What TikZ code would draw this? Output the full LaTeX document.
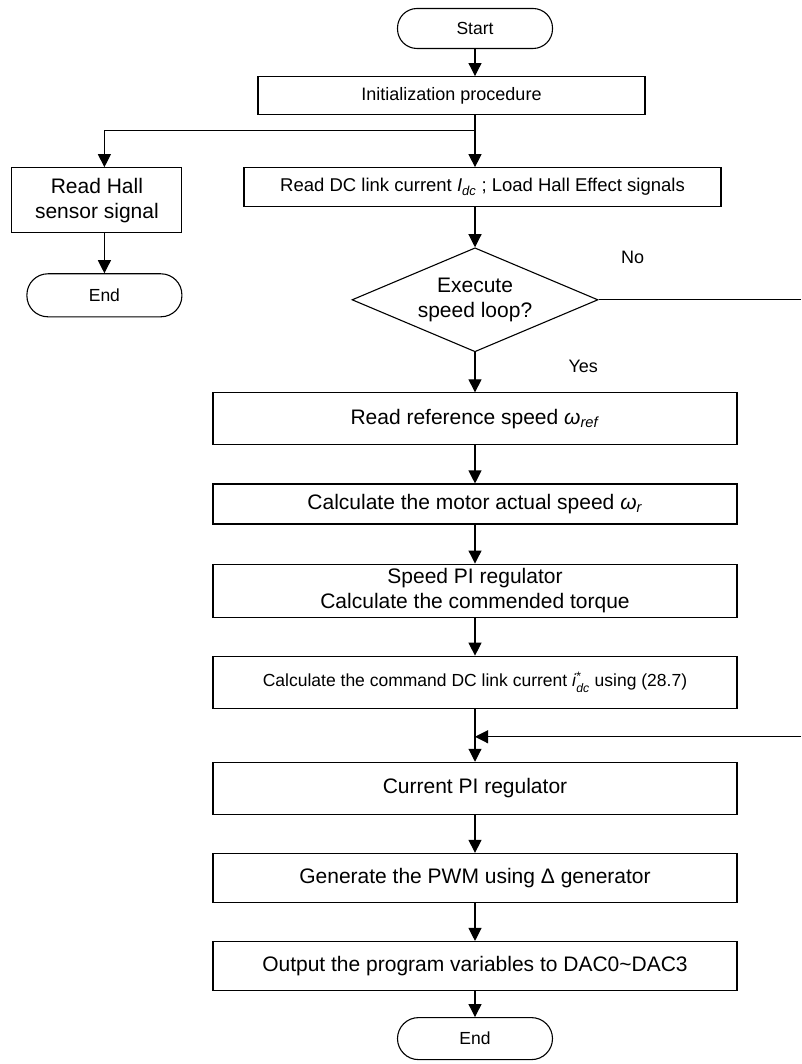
\documentclass[tikz,border=0pt]{standalone}
\usepackage{amsmath}
\usepackage{fontspec}
\setmainfont{Liberation Sans}
\usetikzlibrary{positioning, shapes.geometric, arrows.meta}

\begin{document}
\begin{tikzpicture}[node distance=40pt, font=\fontsize{21}{25}\selectfont,
    >={Triangle[length=13pt, width=13pt]}, line width=1.1pt,
    box/.style={draw, inner sep=0pt, align=center, minimum width=524pt, minimum height=52pt},
    term/.style={draw, rounded corners=19.5pt, inner sep=0pt, minimum width=155pt,
                 minimum height=40pt, font=\fontsize{17.5}{21}\selectfont},
    decision/.style={draw, diamond, aspect=2.4, inner sep=0pt, align=center,
                     minimum width=246pt, minimum height=104pt},
    lbl/.style={inner sep=0pt, font=\fontsize{18}{21}\selectfont}]
          \useasboundingbox (0,0) rectangle (801pt,-1064pt);
          \coordinate (redge) at (801pt,0);
          \node[term] (start) at (475pt,-28.5pt) {Start};
          \node[box, minimum width=387pt, minimum height=38pt, font=\fontsize{18}{21}\selectfont,
                below=27pt of start, xshift=-23.5pt] (init) {Initialization procedure};
          \node[box, minimum width=477pt, minimum height=39pt, font=\fontsize{18.5}{22}\selectfont,
                below=52pt of init, xshift=31pt] (readdc)
                {Read DC link current \textit{I}\textsubscript{\textit{dc}} ; Load Hall Effect signals};
          % Branch: Hall sensor
          \node[box, minimum width=170pt, minimum height=65pt, anchor=north east]
                (hall) at ([xshift=-61pt]readdc.north west) {Read Hall\\sensor signal};
          \node[term, minimum height=43pt, rounded corners=21pt,
                below=40pt of hall, xshift=7.5pt] (endl) {End};
          % Speed loop
          \node[decision, below=40pt of readdc, xshift=-7.5pt] (dec) {Execute\\speed loop?};
          \node[box, below=40pt of dec] (ref) {Read reference speed \textit{ω}\textsubscript{\textit{ref}}};
          \node[box, minimum height=40pt, below=38pt of ref] (act)
                {Calculate the motor actual speed \textit{ω}\textsubscript{\textit{r}}};
          \node[box, minimum height=53pt, below=39pt of act] (spi)
                {Speed PI regulator\\Calculate the commended torque};
          \node[box, font=\fontsize{17.5}{21}\selectfont, below=38pt of spi] (cmd)
                {Calculate the command DC link current \textit{i}$^{\text{*}}_{\textit{dc}}$ using (28.7)};
          % Current loop
          \node[box, below=53pt of cmd] (cpi) {Current PI regulator};
          \node[box, minimum height=49pt, below=38pt of cpi] (pwm) {Generate the PWM using Δ generator};
          \node[box, minimum height=49pt, below=38pt of pwm] (dac)
                {Output the program variables to DAC0\textasciitilde DAC3};
          \node[term, minimum height=42pt, rounded corners=21pt, below=26pt of dac] (endb) {End};
          \node[lbl, above right=36pt and 22pt of dec.east] (no) {No};
          \node[lbl, below right=7pt and 93pt of dec.south] (yes) {Yes};
          \draw[->] (start.south) -- (init.north -| start);
          \path (init.south -| start) ++(0,-15pt) coordinate (split);
          \draw (init.south -| start) -- (split);
          \draw[->] (split) -- (readdc.north -| split);
          \draw[->] (split) -| (endl.north |- hall.north);
          \draw[->] (hall.south -| endl) -- (endl);
          \draw[->] (readdc.south -| dec) -- (dec);
          \draw (dec.east) -- (dec.east -| redge);
          \draw[->] (dec) -- (ref);
          \draw[->] (ref) -- (act);
          \draw[->] (act) -- (spi);
          \draw[->] (spi) -- (cmd);
          \draw[->] (cmd) -- (cpi);
          \path (cmd.south) ++(0,-28pt) coordinate (join);
          \draw[->] (join -| redge) -- (join);
          \draw[->] (cpi) -- (pwm);
          \draw[->] (pwm) -- (dac);
          \draw[->] (dac) -- (endb);
        \end{tikzpicture}
\end{document}
